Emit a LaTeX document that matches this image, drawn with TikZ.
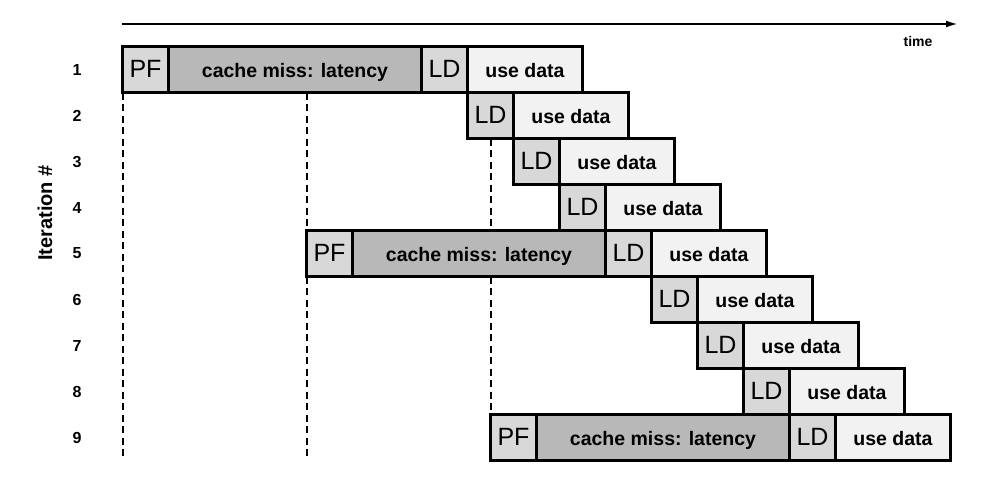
\documentclass[tikz,border=0pt]{standalone}
\usepackage{fontspec}
\setmainfont{Liberation Sans}
\usetikzlibrary{arrows.meta}
\definecolor{litegray}{HTML}{D8D8D8}
\definecolor{darkgray}{HTML}{B8B8B8}
\definecolor{palegray}{HTML}{F2F2F2}
\newcommand{\mkpfrow}[3]{%
  \node[lite, minimum width=46pt] (pf#1) at ({122.5+#3*46},{46.5+(#2-1)*46}) {PF};
  \node[dark, minimum width=253pt] (cm#1) at (pf#1.north east) {cache miss: latency};
  \node[lite, minimum width=46pt] (ld#1) at (cm#1.north east) {LD};
  \node[pale, minimum width=115pt] (ud#1) at (ld#1.north east) {use data};
}
\newcommand{\mkldrow}[3]{%
  \node[lite, minimum width=46pt] (ld#1) at ({122.5+#3*46},{46.5+(#2-1)*46}) {LD};
  \node[pale, minimum width=115pt] (ud#1) at (ld#1.north east) {use data};
}
\begin{document}
\begin{tikzpicture}[x=1pt,y=-1pt,
  box/.style={draw=black, line width=2.2pt, inner sep=0pt, outer sep=0pt,
    minimum height=46pt, anchor=north west, text height=16pt, text depth=0pt},
  lite/.style={box, fill=litegray, font=\fontsize{25}{25}\selectfont},
  dark/.style={box, fill=darkgray, font=\bfseries\fontsize{19.5}{20}\selectfont},
  pale/.style={box, fill=palegray, font=\bfseries\fontsize{19.5}{20}\selectfont},
  num/.style={font=\bfseries\fontsize{16}{16}\selectfont, inner sep=0pt},
  guide/.style={line width=2pt, dash pattern=on 7pt off 4.5pt}]
\useasboundingbox (0,0) rectangle (984,488);
% timeline
\coordinate (t0) at (122,24);
\coordinate (t1) at (958,24);
\draw[line width=2pt, -{Latex[length=12pt,width=7pt]}] (t0) -- (t1);
\node[font=\bfseries\fontsize{14}{14}\selectfont, inner sep=0pt] (timelab) at (918,41) {time};
% rows
\mkpfrow{1}{1}{0}
\mkldrow{2}{2}{7.5}
\mkldrow{3}{3}{8.5}
\mkldrow{4}{4}{9.5}
\mkpfrow{5}{5}{4}
\mkldrow{6}{6}{11.5}
\mkldrow{7}{7}{12.5}
\mkldrow{8}{8}{13.5}
\mkpfrow{9}{9}{8}
% row numbers
\foreach \i in {1,...,9}
  \node[num] (n\i) at (77,{46.5+(\i-0.5)*46}) {\i};
\node[rotate=90, font=\bfseries\fontsize{20}{20}\selectfont, inner sep=0pt] (itlab) at (45,213) {Iteration \#};
% dashed guides
\draw[guide] (pf1.south west) -- (pf1.south west |- pf9.south);
\draw[guide] (pf5.north west |- pf1.south) -- (pf5.north west);
\draw[guide] (pf5.south west) -- (pf5.south west |- pf9.south);
\draw[guide] (pf9.north west |- ld2.south) -- (pf9.north west |- pf5.north);
\draw[guide] (pf9.north west |- pf5.south) -- (pf9.north west);
\end{tikzpicture}
\end{document}
